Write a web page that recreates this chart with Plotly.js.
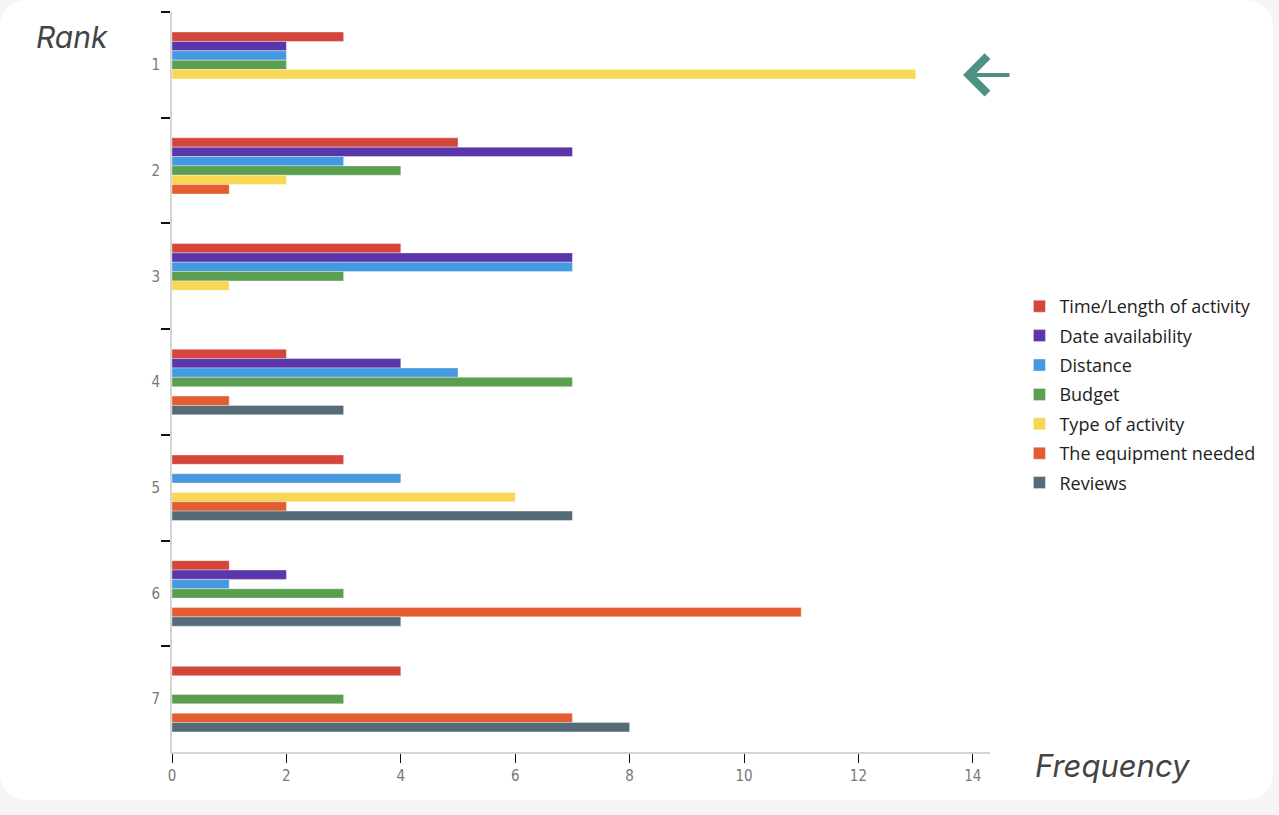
<!DOCTYPE html>
<html>
<head>
<meta charset="utf-8">
<script src="https://cdn.plot.ly/plotly-3.0.1.min.js"></script>
<style>
	html, body { margin: 0; padding: 0; background: #f5f5f5; }
	.card {
		position: absolute; left: 0; top: 0; width: 1273px; height: 800px;
		background: #ffffff; border-radius: 26px;
	}
	#chart { position: absolute; left: 0; top: 0; width: 1279px; height: 815px; }
</style>
</head>
<body>
<div class="card"></div>
<div id="chart"></div>
<script>
// ranks shown top to bottom
const ranks = ["1", "2", "3", "4", "5", "6", "7"]

const seriesNames = [
	"Time/Length of activity",
	"Date availability",
	"Distance",
	"Budget",
	"Type of activity",
	"The equipment needed",
	"Reviews"
]
const seriesColors = ["#d4463c", "#5a36aa", "#4499e0", "#5b9e50", "#f8d755", "#e45c2f", "#566b78"]

// frequency per rank, one array per factor
const timeLength = [3, 5, 4, 2, 3, 1, 4]
const dateAvail = [2, 7, 7, 4, 0, 2, 0]
const distance = [2, 3, 7, 5, 4, 1, 0]
const budget = [2, 4, 3, 7, 0, 3, 3]
const typeActivity = [13, 2, 1, 0, 6, 0, 0]
const equipment = [0, 1, 0, 1, 2, 11, 7]
const reviews = [0, 0, 0, 3, 7, 4, 8]

const xTicks = [0, 2, 4, 6, 8, 10, 12, 14]

const allValues = [timeLength, dateAvail, distance, budget, typeActivity, equipment, reviews]

const data = allValues.map((vals, i) => ({
	type: "bar",
	orientation: "h",
	name: seriesNames[i],
	legendgroup: "g" + i,
	x: vals,
	y: ranks,
	marker: {
		color: seriesColors[i],
		line: { color: "rgba(255,255,255,0.35)", width: 1 }
	},
	hoverinfo: "x+name"
}))

const tickFont = { size: 15, color: "#777", family: "DejaVu Sans Condensed, Liberation Sans Narrow, sans-serif" }

const layout = {
	width: 1279,
	height: 815,
	margin: { l: 172, r: 289, t: 12, b: 63 },
	paper_bgcolor: "rgba(0,0,0,0)",
	plot_bgcolor: "rgba(0,0,0,0)",
	barmode: "group",
	bargap: 0.38,
	bargroupgap: 0,
	showlegend: true,
	font: { family: "Open Sans, DejaVu Sans, sans-serif", color: "#666" },
	xaxis: {
		range: [0, 14.3],
		tickvals: xTicks,
		ticktext: xTicks.map(String),
		ticks: "outside",
		ticklen: 9,
		tickwidth: 1,
		tickcolor: "#111",
		showgrid: false,
		zeroline: false,
		showline: true,
		linecolor: "#d4d4d4",
		linewidth: 2,
		tickfont: tickFont
	},
	yaxis: {
		type: "category",
		autorange: "reversed",
		tickson: "boundaries",
		ticks: "outside",
		ticklen: 9,
		tickwidth: 2,
		tickcolor: "#111",
		ticklabelstandoff: 7,
		showgrid: false,
		zeroline: false,
		showline: true,
		linecolor: "#d4d4d4",
		linewidth: 2,
		tickfont: tickFont
	},
	legend: {
		x: 1.036,
		xanchor: "left",
		y: 0.627,
		yanchor: "top",
		traceorder: "grouped",
		tracegroupgap: 3,
		font: { size: 18, color: "#222", family: "Open Sans, Noto Sans, sans-serif" },
		bgcolor: "rgba(0,0,0,0)"
	},
	annotations: [
		{
			text: "<i>Rank</i>", xref: "paper", yref: "paper",
			x: -0.169, y: 0.966, xanchor: "left", yanchor: "middle",
			showarrow: false,
			font: { size: 30, color: "#444", family: "Inter, Roboto, sans-serif" }
		},
		{
			text: "<i>Frequency</i>", xref: "paper", yref: "paper",
			x: 1.053, y: -0.018, xanchor: "left", yanchor: "middle",
			showarrow: false,
			font: { size: 31, color: "#444", family: "Inter, Roboto, sans-serif" }
		},
		{
			text: "", xref: "paper", yref: "paper",
			x: 0.967, y: 0.915,
			ax: 48, ay: 0,
			showarrow: true,
			arrowhead: 4,
			arrowsize: 1.8,
			arrowwidth: 4,
			arrowcolor: "#4e9084"
		}
	]
}

Plotly.newPlot("chart", data, layout, { displayModeBar: false, staticPlot: true })
</script>
</body>
</html>
